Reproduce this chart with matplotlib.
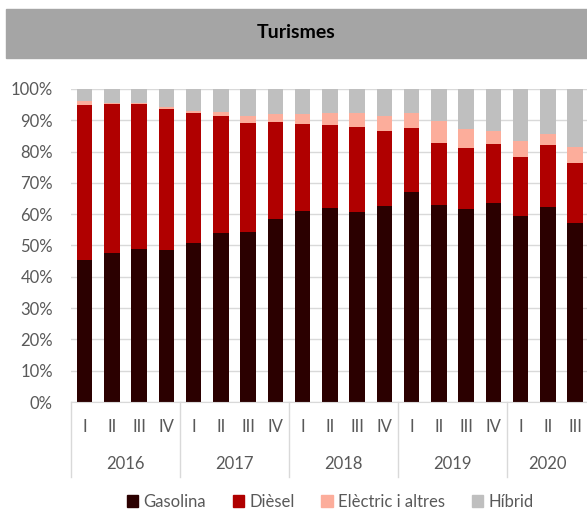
import numpy as np
import matplotlib.pyplot as plt
from matplotlib.patches import Rectangle, Patch

plt.rcParams['font.family'] = ['Lato', 'DejaVu Sans']

quarters = ["I", "II", "III", "IV"] * 4 + ["I", "II", "III"]
years = ["2016", "2017", "2018", "2019", "2020"]
year_bounds = [-0.5, 3.5, 7.5, 11.5, 15.5, 18.5]

# shares in % per quarter
gasolina = [45.4, 47.6, 48.8, 48.6, 50.9, 53.9, 54.4, 58.3, 61.0, 61.9,
            60.6, 62.5, 67.0, 62.8, 61.6, 63.4, 59.4, 62.2, 57.1]
diesel = [49.6, 47.5, 46.3, 45.1, 41.4, 37.3, 34.8, 31.2, 27.9, 26.7,
          27.1, 23.9, 20.4, 19.8, 19.6, 18.9, 19.0, 19.9, 19.2]
electric = [1.2, 0.5, 0.4, 0.5, 0.8, 1.5, 2.1, 2.4, 3.2, 3.8,
            4.5, 4.8, 4.8, 7.0, 6.0, 4.2, 5.0, 3.6, 5.0]
hibrid = [3.8, 4.4, 4.5, 5.8, 6.9, 7.3, 8.7, 8.1, 7.9, 7.6,
          7.8, 8.8, 7.8, 10.4, 12.8, 13.5, 16.6, 14.3, 18.7]

series = [("Gasolina", gasolina, "#2b0000"),
          ("Dièsel", diesel, "#b00000"),
          ("Elèctric i altres", electric, "#fcad9b"),
          ("Híbrid", hibrid, "#bfbfbf")]

txt = "#595959"
W, H = 587, 511
fig = plt.figure(figsize=(W / 100, H / 100), dpi=100)

# title band
fig.patches.append(Rectangle((6 / W, 1 - 57.7 / H), 1, 48.7 / H,
                             transform=fig.transFigure, color="#a5a5a5", zorder=0))
fig.text(296.5 / W, 1 - 33 / H, "Turismes", ha="center", va="center",
         fontsize=14, fontweight="bold", color="black")

ax = fig.add_axes([71 / W, 109 / H, 517.75 / W, 313.1 / H])
x = np.arange(len(quarters))
bottom = np.zeros(len(quarters))
for name, vals, col in series:
    v = np.array(vals) / 100
    ax.bar(x, v, 0.57, bottom=bottom, color=col, label=name, zorder=2)
    bottom += v

ax.set_xlim(-0.5, 18.5)
ax.set_ylim(0, 1)
ax.set_yticks(np.arange(0, 1.01, 0.1))
ax.set_yticklabels(["{:.0f}%".format(t * 100) for t in np.arange(0, 1.01, 0.1)])
ax.tick_params(axis="y", length=0, pad=13, labelsize=12, labelcolor=txt)
ax.set_xticks([])
ax.grid(axis="y", color="#d9d9d9", linewidth=1, zorder=0)
for s in ["top", "right", "left"]:
    ax.spines[s].set_visible(False)
ax.spines["bottom"].set_color("#d9d9d9")

tr = ax.get_xaxis_transform()
for i, q in enumerate(quarters):
    ax.text(i, -0.08, q, transform=tr, ha="center", va="center", fontsize=12, color=txt)
for i, yr in enumerate(years):
    mid = (year_bounds[i] + year_bounds[i + 1]) / 2
    ax.text(mid, -0.198, yr, transform=tr, ha="center", va="center", fontsize=12, color=txt)
for b in year_bounds:
    ax.plot([b, b], [0, -0.2395], transform=tr, color="#d9d9d9", linewidth=1, clip_on=False)

handles = [Patch(color=col, label=name) for name, vals, col in series]
fig.legend(handles=handles, loc="center", bbox_to_anchor=(330 / W, 1 - 502 / H), ncol=4,
           frameon=False, fontsize=12, labelcolor=txt, handlelength=0.7, handleheight=0.7,
           handletextpad=0.3, columnspacing=1.6)

plt.savefig("out.png", dpi=100)
